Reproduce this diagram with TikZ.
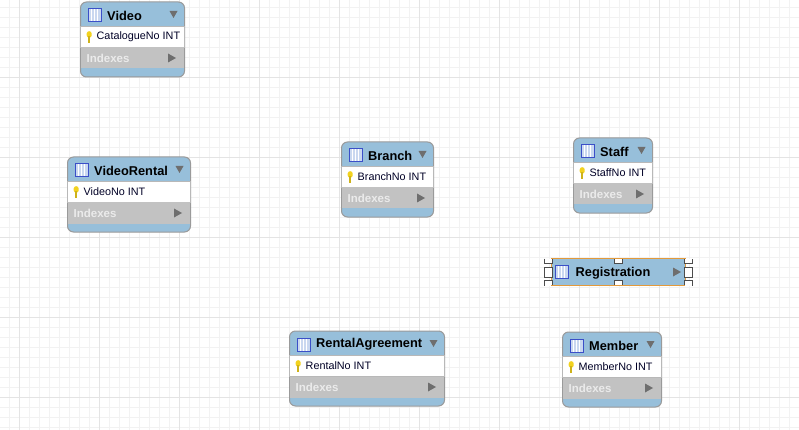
\documentclass[tikz,border=0pt]{standalone}
\usepackage{xcolor}
\usepackage{fontspec}
\setmainfont{Liberation Sans}
\usepackage{tikz}
\usetikzlibrary{positioning}

\definecolor{headblue}{HTML}{97BFDA}
\definecolor{rowgray}{HTML}{C2C2C2}
\definecolor{edgegray}{HTML}{9A9A9A}
\definecolor{arrowgray}{HTML}{6E6E6E}
\definecolor{iconblue}{HTML}{3B4FC8}
\definecolor{iconfill}{HTML}{C9D8F0}
\definecolor{keyyellow}{HTML}{F2D21F}
\definecolor{selorange}{HTML}{E39A3B}
\definecolor{gridminor}{HTML}{F2F2F2}
\definecolor{gridmajor}{HTML}{E4E4E4}

\tikzset{
  tablebody/.style={draw=edgegray, line width=1pt, fill=headblue, rounded corners=6pt, inner sep=0, outer sep=0, minimum height=75pt},
  colrow/.style={draw=edgegray!70, line width=0.8pt, fill=white, inner sep=0, outer sep=0, minimum height=21pt},
  idxrow/.style={fill=rowgray, inner sep=0, outer sep=0, minimum height=21pt},
  tabletitle/.style={inner sep=0, font=\fontsize{12.8}{14}\selectfont\bfseries, anchor=west},
  coltext/.style={inner sep=0, font=\fontsize{10.8}{13}\selectfont, text=black!85!blue, anchor=west},
  idxtext/.style={inner sep=0, font=\fontsize{11.5}{13}\selectfont\bfseries, text=white!92!black, anchor=west},
  tableicon/.style={draw=iconblue, line width=1pt, fill=iconfill, inner sep=0, minimum width=13pt, minimum height=13pt,
    path picture={\foreach \i in {-3,0,3} \draw[white, line width=0.8pt] ([xshift=\i pt]path picture bounding box.north) -- ([xshift=\i pt]path picture bounding box.south);}},
  keynode/.style={fill=keyyellow, rounded corners=2.4pt, inner sep=0, minimum width=5pt, minimum height=6.5pt},
  handlebox/.style={fill=white, inner sep=0, outer sep=0, minimum width=8pt},
  handleline/.style={draw=black!70, line width=1pt},
}

% one table with its key column and the collapsed index row
\newcommand{\dbtable}[6]{
  \node[tablebody, minimum width=#4 pt, anchor=north west] (#1) at (#2,#3) {};
  \node[colrow, minimum width=#4 pt, below=24.5pt of #1.north] (#1col) {};
  \node[idxrow, minimum width=#4 pt-1pt, below=0pt of #1col] (#1idx) {};
  \node[tableicon, below right=6.5pt and 7pt of #1.north west] (#1icon) {};
  \node[tabletitle, right=5.5pt of #1icon] (#1title) {#5};
  \node[keynode, below right=4.5pt and 6pt of #1col.north west] (#1key) {};
  \fill[keyyellow!85!black] ([xshift=-1.2pt,yshift=-2pt]#1key.center) rectangle ++(2.4pt,-6.5pt);
  \node[coltext, right=16pt of #1col.west] (#1text) {#6};
  \node[idxtext, right=5.5pt of #1idx.west] (#1indexes) {Indexes};
  \fill[arrowgray] ([shift={(-15pt,-9pt)}]#1.north east) -- ++(8pt,0) -- ++(-4pt,-7pt) -- cycle;
  \fill[arrowgray] ([xshift=-16pt]#1idx.east) ++(0,4.5pt) -- ++(8pt,-4.5pt) -- ++(-8pt,-4.5pt) -- cycle;
}

\begin{document}
\begin{tikzpicture}[x=1pt, y=-1pt]
\useasboundingbox[fill=white] (0,0) rectangle (799,430);

% canvas grid
\foreach \x in {9.5,19.5,...,799} \draw[gridminor, line width=1pt] (\x,0) -- (\x,430);
\foreach \y in {7.5,17.5,...,430} \draw[gridminor, line width=1pt] (0,\y) -- (799,\y);
\foreach \x in {19.5,99.5,...,799} \draw[gridmajor, line width=1pt] (\x,0) -- (\x,430);
\foreach \y in {77.5,157.5,...,430} \draw[gridmajor, line width=1pt] (0,\y) -- (799,\y);

\dbtable{video}{80.5}{2}{104}{Video}{CatalogueNo INT}
\dbtable{videorental}{67.5}{157}{123}{VideoRental}{VideoNo INT}
\dbtable{branch}{341.5}{142}{92}{Branch}{BranchNo INT}
\dbtable{staff}{573.5}{138}{79}{Staff}{StaffNo INT}
\dbtable{rental}{289.5}{331}{155}{RentalAgreement}{RentalNo INT}
\dbtable{member}{562.5}{332}{99}{Member}{MemberNo INT}

% selected table with its resize handles
\node[draw=selorange, line width=1pt, fill=headblue, inner sep=0, outer sep=0, minimum width=134pt, minimum height=27pt, anchor=north west] (reg) at (551,258.5) {};
\node[tableicon, right=3.5pt of reg.west] (regicon) {};
\node[tabletitle, right=7pt of regicon, yshift=-1pt] (regtitle) {Registration};
\fill[arrowgray] ([xshift=-12pt]reg.east) ++(0,4.5pt) -- ++(8pt,-4.5pt) -- ++(-8pt,-4.5pt) -- cycle;

\foreach \nm/\sx in {l/-1,r/1} {
  \coordinate (c\nm) at ([xshift=\sx*3pt]reg.\ifnum\sx<0 west\else east\fi);
  \node[handlebox, minimum height=10pt] (h\nm) at (c\nm) {};
  \draw[handleline] (h\nm.north west) rectangle (h\nm.south east);
  \node[handlebox, minimum height=5pt, anchor=north] (t\nm) at (c\nm |- reg.north) {};
  \draw[handleline] (t\nm.north west) -- (t\nm.south west) -- (t\nm.south east) -- (t\nm.north east);
  \node[handlebox, minimum height=5pt, anchor=south] (b\nm) at (c\nm |- reg.south) {};
  \draw[handleline] (b\nm.south west) -- (b\nm.north west) -- (b\nm.north east) -- (b\nm.south east);
}
\node[handlebox, minimum height=5pt, anchor=north] (tm) at (reg.north) {};
\draw[handleline] (tm.north west) -- (tm.south west) -- (tm.south east) -- (tm.north east);
\node[handlebox, minimum height=5pt, anchor=south] (bm) at (reg.south) {};
\draw[handleline] (bm.south west) -- (bm.north west) -- (bm.north east) -- (bm.south east);
\draw[selorange, line width=1pt] (reg.north west) -- (reg.north east);
\draw[selorange, line width=1pt] (reg.south west) -- (reg.south east);

\end{tikzpicture}
\end{document}
